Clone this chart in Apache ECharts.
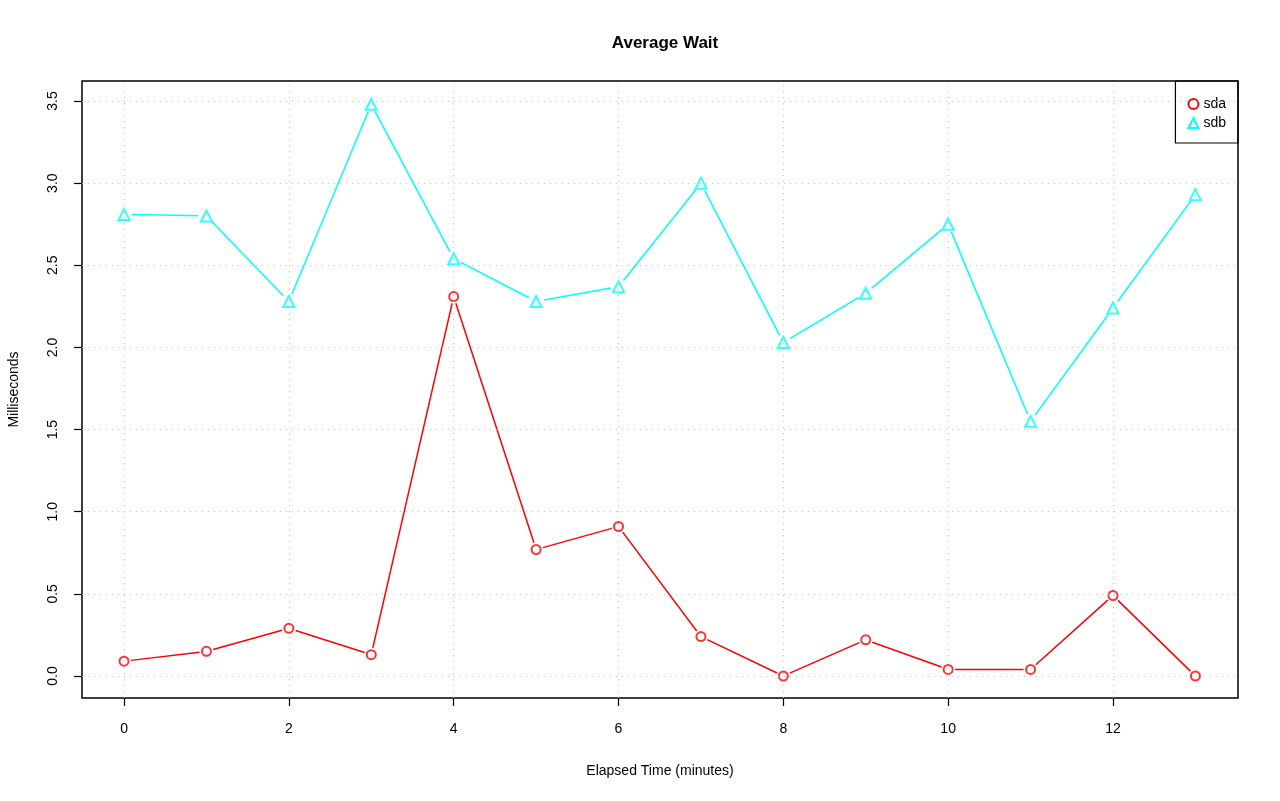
<!DOCTYPE html>
<html>
<head>
<meta charset="utf-8">
<script src="https://cdn.jsdelivr.net/npm/echarts@6/dist/echarts.min.js"></script>
<style>html,body{margin:0;padding:0;background:#fff}#c{width:1280px;height:801px}</style>
</head>
<body>
<div id="c"></div>
<script>
const minutes = [0,1,2,3,4,5,6,7,8,9,10,11,12,13];
const sda = [0.09,0.15,0.29,0.13,2.31,0.77,0.91,0.24,0.00,0.22,0.04,0.04,0.49,0.00];
const sdb = [2.81,2.80,2.28,3.48,2.54,2.28,2.37,3.00,2.03,2.33,2.75,1.55,2.24,2.93];
const xTicks = [0,2,4,6,8,10,12];
const yTicks = [0,0.5,1,1.5,2,2.5,3,3.5];
const yTickLabels = ['0.0','0.5','1.0','1.5','2.0','2.5','3.0','3.5'];

const FONT = 'Liberation Sans, Arial, Helvetica, sans-serif';
const RED = '#ff0000', CYAN = '#00ffff';
const chart = echarts.init(document.getElementById('c'), null, {renderer:'canvas'});
const pair = arr => minutes.map((m,i)=>[m,arr[i]]);
const segs = arr => minutes.slice(0,-1).map((m,i)=>[m,arr[i],minutes[i+1],arr[i+1]]);
const gridStyle = {color:'#c4c4c4', type:[1,5], width:1};

// R type="b": segments stop short of the points
function gapLine(color, gap){
  return function(params, api){
    const a = api.coord([api.value(0), api.value(1)]);
    const b = api.coord([api.value(2), api.value(3)]);
    const dx = b[0]-a[0], dy = b[1]-a[1];
    const len = Math.sqrt(dx*dx+dy*dy);
    if (len <= 2*gap) return null;
    const ux = dx/len, uy = dy/len;
    return {type:'line', shape:{x1:a[0]+ux*gap, y1:a[1]+uy*gap, x2:b[0]-ux*gap, y2:b[1]-uy*gap},
      style:{stroke:color, lineWidth:1.5}};
  };
}

chart.setOption({
  animation:false,
  backgroundColor:'#fff',
  title:{text:'Average Wait', left:660, top:30, textAlign:'center',
    textStyle:{fontFamily:FONT,fontSize:17,fontWeight:'bold',color:'#000'}},
  grid:{left:82,right:42,top:81,bottom:103,show:true,borderColor:'#000',borderWidth:1.5,
    backgroundColor:'transparent', outerBoundsMode:'none', containLabel:false},
  legend:{orient:'vertical', right:42, top:81, padding:[16,12,13,12], itemGap:5, itemTextGap:11,
    borderColor:'#000', borderWidth:1.2, borderRadius:0, itemWidth:10, itemHeight:10,
    textStyle:{fontFamily:FONT,fontSize:14,color:'#000'},
    data:[
      {name:'sda', icon:'circle', itemStyle:{color:'#fff',borderColor:RED,borderWidth:2}},
      {name:'sdb', icon:'triangle', itemStyle:{color:'#fff',borderColor:CYAN,borderWidth:2}}
    ]},
  xAxis:{type:'value', min:-0.51, max:13.517,
    name:'Elapsed Time (minutes)', nameLocation:'middle', nameGap:66,
    nameTextStyle:{fontFamily:FONT,fontSize:14,color:'#000'},
    axisLine:{show:false, onZero:false},
    axisTick:{show:true, customValues:xTicks, length:8, lineStyle:{color:'#000',width:1.2}},
    axisLabel:{customValues:xTicks, margin:24, fontFamily:FONT, fontSize:14, color:'#000'},
    splitLine:{show:false}},
  yAxis:{type:'value', min:-0.134, max:3.622,
    name:'Milliseconds', nameLocation:'middle', nameGap:61, nameRotate:90,
    nameTextStyle:{fontFamily:FONT,fontSize:14,color:'#000'},
    axisLine:{show:false, onZero:false},
    axisTick:{show:true, customValues:yTicks, length:8, lineStyle:{color:'#000',width:1.2}},
    axisLabel:{customValues:yTicks, rotate:90, margin:22, fontFamily:FONT, fontSize:14, color:'#000',
      formatter:v=>yTickLabels[yTicks.indexOf(v)] ?? v.toFixed(1)},
    splitLine:{show:false}},
  series:[
    {name:'grid', type:'line', data:[], silent:true, legendHoverLink:false,
      markLine:{silent:true, symbol:'none', label:{show:false}, lineStyle:gridStyle,
        data:[...xTicks.map(v=>({xAxis:v})), ...yTicks.map(v=>({yAxis:v}))]}},
    {name:'sda', type:'custom', data:segs(sda), renderItem:gapLine(RED,7), silent:true,
      encode:{x:[0,2], y:[1,3]}},
    {name:'sdb', type:'custom', data:segs(sdb), renderItem:gapLine(CYAN,8), silent:true,
      encode:{x:[0,2], y:[1,3]}},
    {name:'sda', type:'scatter', data:pair(sda), symbol:'circle', symbolSize:9,
      itemStyle:{color:'transparent',borderColor:RED,borderWidth:2}},
    {name:'sdb', type:'scatter', data:pair(sdb), symbol:'triangle', symbolSize:11,
      itemStyle:{color:'transparent',borderColor:CYAN,borderWidth:2}}
  ]
});
</script>
</body>
</html>
